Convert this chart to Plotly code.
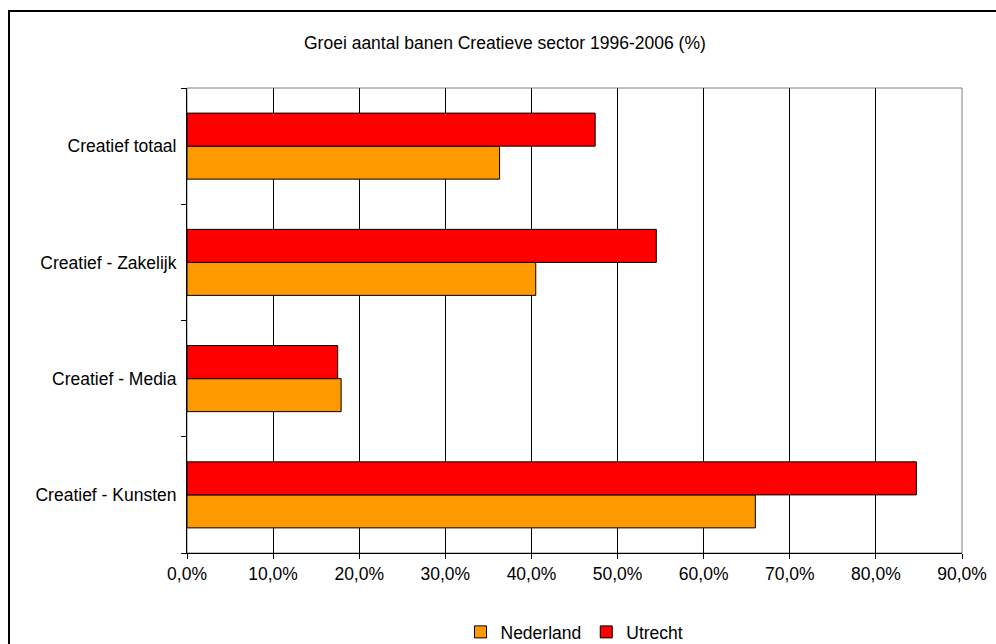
import plotly.graph_objects as go

# Categories listed bottom-to-top (Plotly puts the first category at the bottom)
categories = ["Creatief - Kunsten", "Creatief - Media", "Creatief - Zakelijk", "Creatief totaal"]
nederland = [66.0, 17.9, 40.5, 36.3]
utrecht = [84.7, 17.5, 54.5, 47.4]
x_ticks = [0, 10, 20, 30, 40, 50, 60, 70, 80, 90]
x_tick_labels = ["0,0%", "10,0%", "20,0%", "30,0%", "40,0%", "50,0%", "60,0%", "70,0%", "80,0%", "90,0%"]
title = "Groei aantal banen Creatieve sector 1996-2006 (%)"

FONT = "Liberation Sans, Arial, sans-serif"
FS = 17.5

fig = go.Figure()
fig.add_trace(go.Bar(
    y=categories, x=nederland, name="Nederland", orientation="h",
    marker=dict(color="#FF9900", line=dict(color="black", width=1)),
))
fig.add_trace(go.Bar(
    y=categories, x=utrecht, name="Utrecht", orientation="h",
    marker=dict(color="#FF0000", line=dict(color="black", width=1)),
))

W, H = 996, 644
L, R, T, B = 187, 34, 88, 91
pw, ph = W - L - R, H - T - B


def px_x(x):
    return (x - L) / pw


def px_y(y):
    return (H - B - y) / ph


fig.update_layout(
    width=W, height=H,
    margin=dict(l=L, r=R, t=T, b=B, pad=0, autoexpand=False),
    paper_bgcolor="white", plot_bgcolor="white",
    barmode="group", bargap=0.432, bargroupgap=0,
    font=dict(family=FONT, size=FS, color="black"),
    showlegend=True,
    legend=dict(
        orientation="h", x=0.5, xanchor="center", y=px_y(632), yanchor="middle",
        font=dict(family=FONT, size=FS, color="black"),
        itemwidth=30, traceorder="normal", bgcolor="rgba(0,0,0,0)",
    ),
    xaxis=dict(
        range=[0, 90], tickvals=x_ticks, ticktext=x_tick_labels,
        showgrid=True, gridcolor="black", gridwidth=1,
        showline=True, linecolor="black", linewidth=1,
        ticks="outside", ticklen=5, tickcolor="black",
        zeroline=False, fixedrange=True, automargin=False,
        tickfont=dict(family=FONT, size=FS, color="black"),
    ),
    yaxis=dict(
        categoryorder="array", categoryarray=categories,
        showgrid=False, showline=True, linecolor="black", linewidth=1,
        ticks="outside", ticklen=5, tickcolor="black", tickson="boundaries",
        ticklabelstandoff=6, fixedrange=True, automargin=False,
        tickfont=dict(family=FONT, size=FS, color="black"),
    ),
    annotations=[dict(
        text=title, xref="paper", yref="paper",
        x=px_x(505), y=px_y(43), xanchor="center", yanchor="middle",
        showarrow=False, font=dict(family=FONT, size=FS, color="black"),
    )],
    shapes=[
        # plot area frame
        dict(type="rect", xref="paper", yref="paper", x0=0, x1=1, y0=0, y1=1,
             line=dict(color="#808080", width=1), layer="below"),
        # chart area border
        dict(type="rect", xref="paper", yref="paper",
             x0=px_x(9), x1=px_x(1010), y0=px_y(660), y1=px_y(11),
             line=dict(color="black", width=2), layer="above"),
    ],
)

fig.write_html("out.html")
